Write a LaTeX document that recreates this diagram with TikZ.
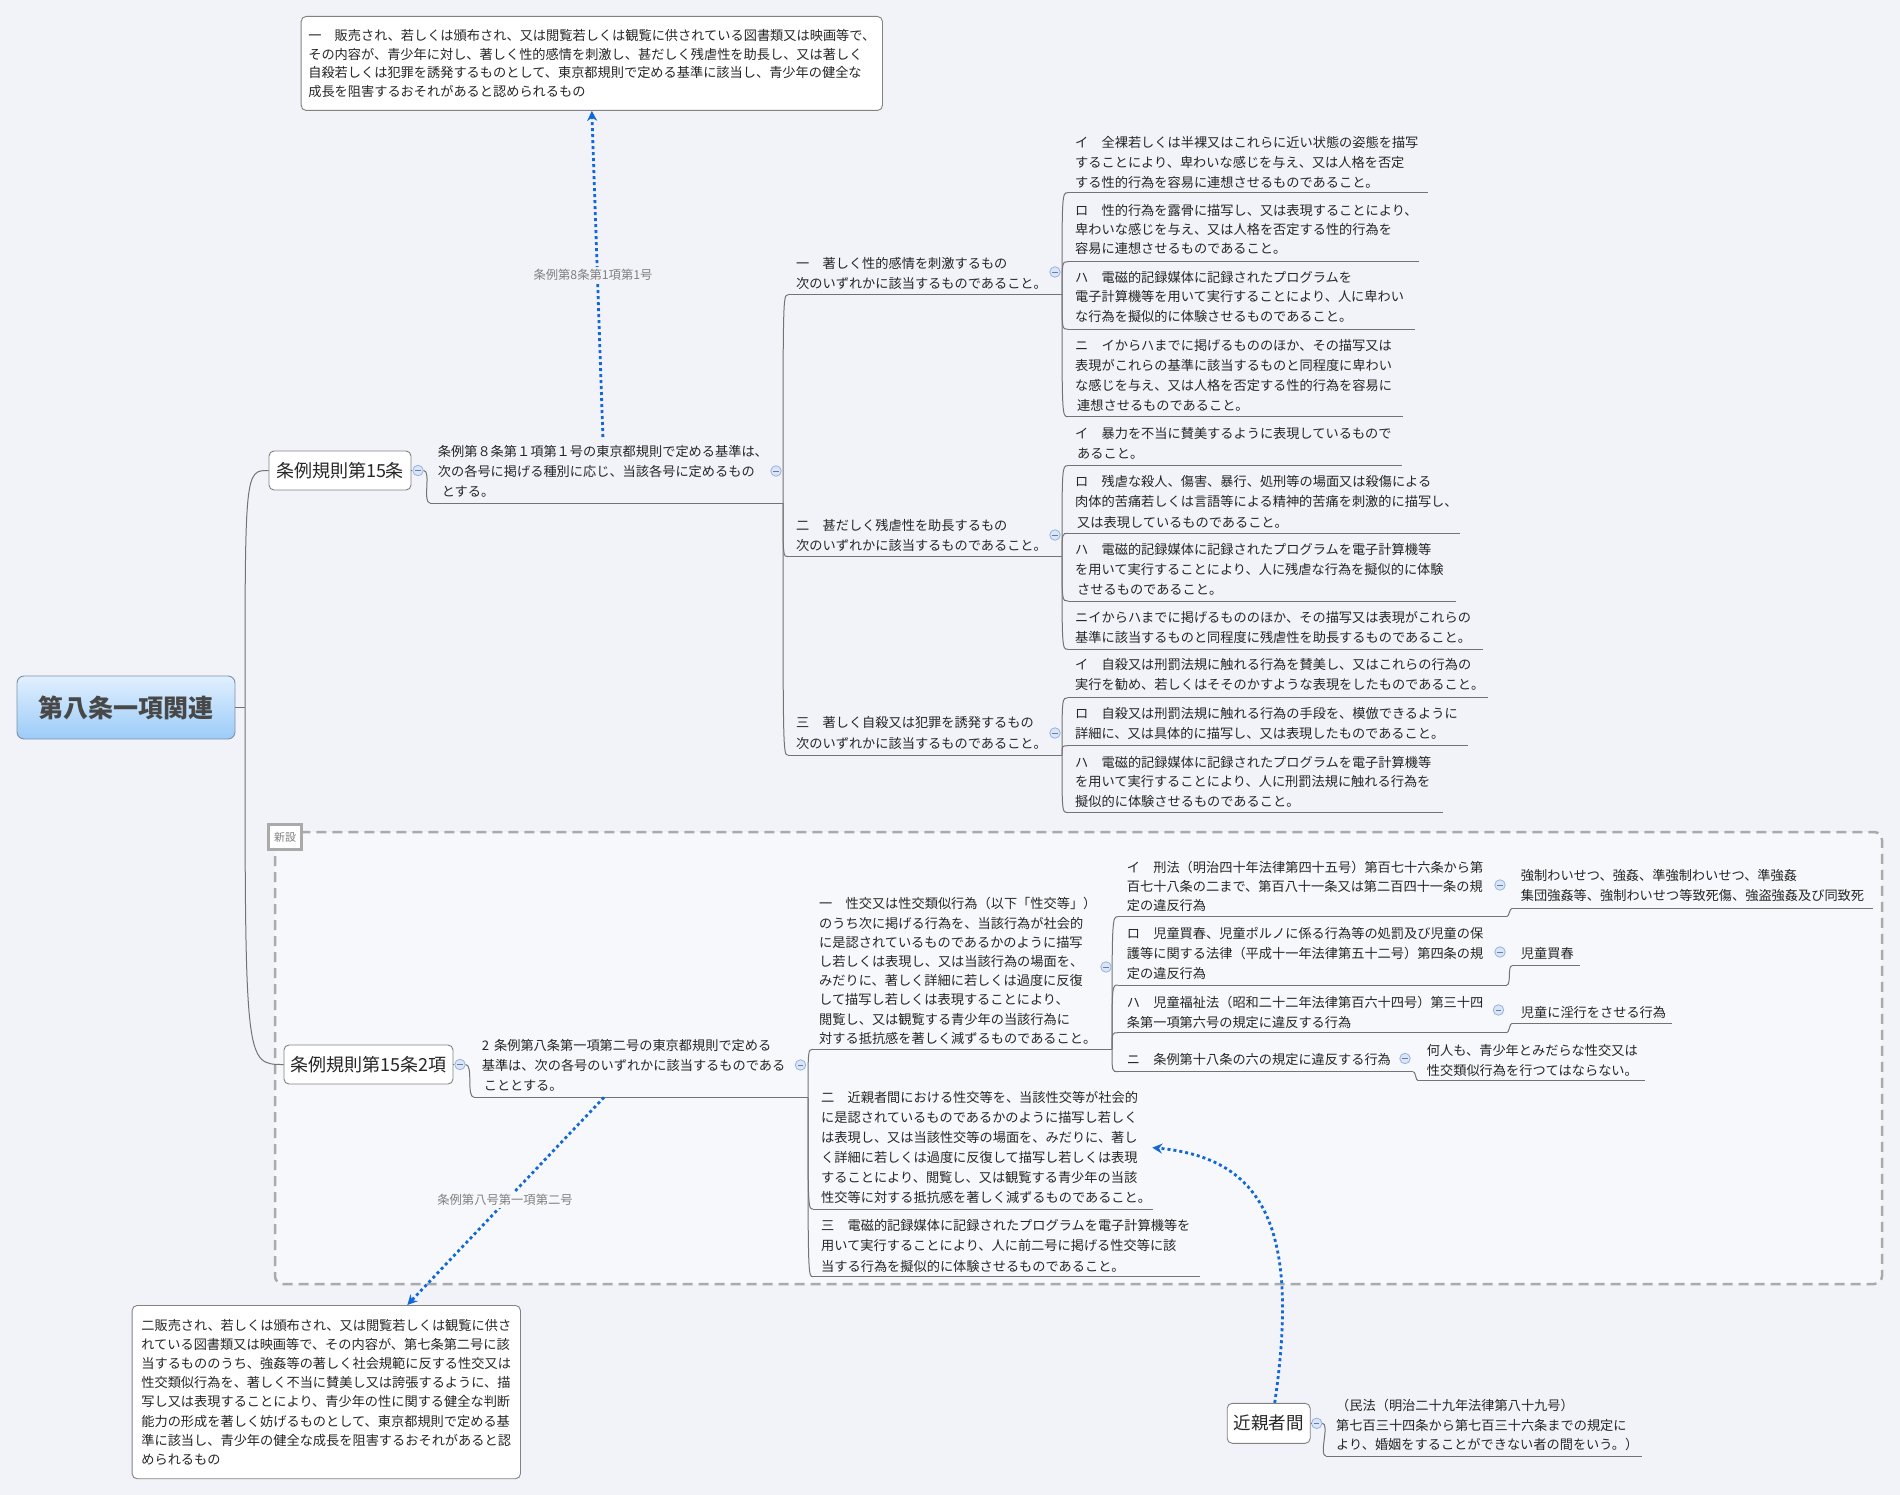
\documentclass[tikz,border=0pt]{standalone}
\usepackage{fontspec}
\setmainfont{Noto Sans CJK JP}
\usetikzlibrary{arrows.meta}
\definecolor{bg}{RGB}{242,243,248}
\definecolor{bgin}{RGB}{247,248,251}
\definecolor{txtc}{RGB}{38,38,38}
\definecolor{linec}{RGB}{115,115,115}
\definecolor{boxc}{RGB}{130,130,130}
\definecolor{dashc}{RGB}{170,170,170}
\definecolor{bluec}{RGB}{18,104,216}
\definecolor{labc}{RGB}{128,128,128}
\definecolor{cbfill}{RGB}{218,229,248}
\definecolor{cbdraw}{RGB}{150,178,224}
\definecolor{roottop}{RGB}{225,240,255}
\definecolor{rootbot}{RGB}{155,203,248}
\definecolor{rootbord}{RGB}{125,145,170}
\definecolor{roottext}{RGB}{72,72,72}
\newcommand{\jbody}[1]{\fontsize{13.2}{#1}\selectfont}
\newcommand{\utopic}[8]{%
  \node[tx=#4] (#1) at (#2,#3) {#5};
  \coordinate (#1-s) at (#6,#8);
  \coordinate (#1-e) at (#7,#8);
  \draw[conn] (#1-s) -- (#1-e);}
\newcommand{\brk}[2]{\draw[conn] (#1) .. controls (#1 |- #2) .. (#2);}
\newcommand{\scv}[2]{\draw[conn] (#1) to[out=0,in=180,looseness=0.6] (#2);}
\begin{document}
\begin{tikzpicture}[x=1pt,y=-1pt,
  tx/.style={font=\jbody{#1}, text=txtc, align=left, inner sep=0pt, anchor=north west},
  tx/.default=20,
  conn/.style={draw=linec, line width=1pt},
  topic/.style={draw=boxc, fill=white, rounded corners=5pt, line width=0.9pt, text=txtc,
    font=\fontsize{18}{22}\selectfont, inner sep=0pt},
  cb/.style={circle, draw=cbdraw, fill=cbfill, line width=0.8pt, minimum size=10.5pt, inner sep=0pt,
    path picture={\draw[cbdraw!70!black, line width=0.9pt]
      ([xshift=-2.6pt]path picture bounding box.center) -- ([xshift=2.6pt]path picture bounding box.center);}},
  ref/.style={draw=bluec, line width=2.8pt, dash pattern=on 3pt off 3pt, -{Stealth[length=10pt,width=10pt]}},
  lab/.style={font=\fontsize{12.3}{14}\selectfont, text=labc, inner sep=2pt},
]
\fill[bg] (0,0) rectangle (1900,1495);
\useasboundingbox (0,0) rectangle (1900,1495);

% new section region
\fill[bgin, rounded corners=8pt] (275,832) rectangle (1882,1284);
\draw[dashc, line width=2.5pt, dash pattern=on 10pt off 6pt, rounded corners=8pt] (275,832) rectangle (1882,1284);
\node[draw=dashc, line width=2.5pt, fill=white, minimum width=33pt, minimum height=25pt, inner sep=0pt,
  font=\fontsize{11}{13}\selectfont, text=labc] (shin) at (285,837) {新設};

% root and first-level topics
\node[draw=rootbord, rounded corners=7pt, top color=roottop, bottom color=rootbot, line width=0.9pt,
  minimum width=218pt, minimum height=63pt, font=\fontsize{25}{30}\selectfont\bfseries, text=roottext] (root) at (126,707.5) {第八条一項関連};
\coordinate (J0) at (245,707.5);
\node[topic, minimum width=142pt, minimum height=39pt] (A) at (340,470.5) {条例規則第15条};
\node[topic, minimum width=169pt, minimum height=39pt] (G) at (368.5,1064.5) {条例規則第15条2項};
\node[topic, minimum width=83pt, minimum height=40pt, font=\fontsize{17.5}{21}\selectfont] (N) at (1268.7,1423.3) {近親者間};

% referenced boxes
\node[topic, font=\jbody{18.4}, align=left, anchor=north west, minimum width=581.3pt, minimum height=94pt,
  inner xsep=6.5pt] (topbox) at (300.7,16) {一　販売され、若しくは頒布され、又は閲覧若しくは観覧に供されている図書類又は映画等で、\\
その内容が、青少年に対し、著しく性的感情を刺激し、甚だしく残虐性を助長し、又は著しく\\
自殺若しくは犯罪を誘発するものとして、東京都規則で定める基準に該当し、青少年の健全な\\
成長を阻害するおそれがあると認められるもの};
\node[topic, font=\jbody{19.2}, align=left, anchor=north west, minimum width=388.3pt, minimum height=173.3pt,
  inner xsep=8pt] (M) at (131.7,1305) {二販売され、若しくは頒布され、又は閲覧若しくは観覧に供さ\\
れている図書類又は映画等で、その内容が、第七条第二号に該\\
当するもののうち、強姦等の著しく社会規範に反する性交又は\\
性交類似行為を、著しく不当に賛美し又は誇張するように、描\\
写し又は表現することにより、青少年の性に関する健全な判断\\
能力の形成を著しく妨げるものとして、東京都規則で定める基\\
準に該当し、青少年の健全な成長を阻害するおそれがあると認\\
められるもの};

% ---- upper tree ----
\utopic{B}{437.7}{445}{20}{条例第８条第１項第１号の東京都規則で定める基準は、\\次の各号に掲げる種別に応じ、当該各号に定めるもの\\\hspace{4pt}とする。}{430}{783}{503}
\utopic{C1}{796}{256.7}{20.6}{一　著しく性的感情を刺激するもの\\次のいずれかに該当するものであること。}{788}{1062}{295}
\utopic{C2}{796}{519}{20}{二　甚だしく残虐性を助長するもの\\次のいずれかに該当するものであること。}{788}{1062}{556.7}
\utopic{C3}{796}{716.3}{20.4}{三　著しく自殺又は犯罪を誘発するもの\\次のいずれかに該当するものであること。}{788}{1062}{755}

\utopic{D1}{1075}{135.7}{20}{イ　全裸若しくは半裸又はこれらに近い状態の姿態を描写\\することにより、卑わいな感じを与え、又は人格を否定\\する性的行為を容易に連想させるものであること。}{1068}{1428}{192.7}
\utopic{D2}{1075}{204}{19.3}{ロ　性的行為を露骨に描写し、又は表現することにより、\\卑わいな感じを与え、又は人格を否定する性的行為を\\容易に連想させるものであること。}{1068}{1419}{261.7}
\utopic{D3}{1075}{270.7}{19.7}{ハ　電磁的記録媒体に記録されたプログラムを\\電子計算機等を用いて実行することにより、人に卑わい\\な行為を擬似的に体験させるものであること。}{1068}{1415}{329.3}
\utopic{D4}{1075}{339}{20}{ニ　イからハまでに掲げるもののほか、その描写又は\\表現がこれらの基準に該当するものと同程度に卑わい\\な感じを与え、又は人格を否定する性的行為を容易に\\\hspace{2pt}連想させるものであること。}{1068}{1403}{416.7}

\utopic{E1}{1075}{427.3}{19.4}{イ　暴力を不当に賛美するように表現しているもので\\\hspace{2pt}あること。}{1068}{1401.7}{465.7}
\utopic{E2}{1075}{475}{20.3}{ロ　残虐な殺人、傷害、暴行、処刑等の場面又は殺傷による\\肉体的苦痛若しくは言語等による精神的苦痛を刺激的に描写し、\\\hspace{2pt}又は表現しているものであること。}{1068}{1460}{533.3}
\utopic{E3}{1075}{543}{20}{ハ　電磁的記録媒体に記録されたプログラムを電子計算機等\\を用いて実行することにより、人に残虐な行為を擬似的に体験\\\hspace{2pt}させるものであること。}{1068}{1456}{601}
\utopic{E4}{1075}{610.7}{20}{ニイからハまでに掲げるもののほか、その描写又は表現がこれらの\\基準に該当するものと同程度に残虐性を助長するものであること。}{1068}{1482.7}{649.3}

\utopic{F1}{1075}{658.3}{20}{イ　自殺又は刑罰法規に触れる行為を賛美し、又はこれらの行為の\\実行を勧め、若しくはそそのかすような表現をしたものであること。}{1068}{1488}{697.7}
\utopic{F2}{1075}{706.7}{20}{ロ　自殺又は刑罰法規に触れる行為の手段を、模倣できるように\\詳細に、又は具体的に描写し、又は表現したものであること。}{1068}{1468}{745.7}
\utopic{F3}{1075}{755.7}{19.7}{ハ　電磁的記録媒体に記録されたプログラムを電子計算機等\\を用いて実行することにより、人に刑罰法規に触れる行為を\\擬似的に体験させるものであること。}{1068}{1443}{812.7}

% ---- lower tree ----
\utopic{H}{481.6}{1039}{20}{2\hspace{5pt}条例第八条第一項第二号の東京都規則で定める\\基準は、次の各号のいずれかに該当するものである\\\hspace{2pt}こととする。}{474}{808}{1097.3}
\utopic{I1}{819}{897.3}{19.2}{一　性交又は性交類似行為（以下「性交等」）\\のうち次に掲げる行為を、当該行為が社会的\\に是認されているものであるかのように描写\\し若しくは表現し、又は当該行為の場面を、\\みだりに、著しく詳細に若しくは過度に反復\\して描写し若しくは表現することにより、\\閲覧し、又は観覧する青少年の当該行為に\\対する抵抗感を著しく減ずるものであること。}{813}{1112}{1049.3}
\utopic{I2}{821}{1091.3}{20}{二　近親者間における性交等を、当該性交等が社会的\\に是認されているものであるかのように描写し若しく\\は表現し、又は当該性交等の場面を、みだりに、著し\\く詳細に若しくは過度に反復して描写し若しくは表現\\することにより、閲覧し、又は観覧する青少年の当該\\性交等に対する抵抗感を著しく減ずるものであること。}{813}{1152.6}{1209}
\utopic{I3}{821}{1219}{20.4}{三　電磁的記録媒体に記録されたプログラムを電子計算機等を\\用いて実行することにより、人に前二号に掲げる性交等に該\\当する行為を擬似的に体験させるものであること。}{813}{1200}{1276.7}

\utopic{K1}{1126.7}{860.7}{19.2}{イ　刑法（明治四十年法律第四十五号）第百七十六条から第\\百七十八条の二まで、第百八十一条又は第二百四十一条の規\\定の違反行為}{1118}{1506.7}{916.7}
\utopic{K2}{1126.7}{927.3}{19.7}{ロ　児童買春、児童ポルノに係る行為等の処罰及び児童の保\\護等に関する法律（平成十一年法律第五十二号）第四条の規\\定の違反行為}{1118}{1506.7}{985}
\utopic{K3}{1126.7}{995.7}{20}{ハ　児童福祉法（昭和二十二年法律第百六十四号）第三十四\\条第一項第六号の規定に違反する行為}{1118}{1506.7}{1032.7}
\utopic{K4}{1126.7}{1053.3}{20}{ニ　条例第十八条の六の規定に違反する行為}{1118}{1413.3}{1071.7}

\utopic{L1}{1520.7}{869}{20}{強制わいせつ、強姦、準強制わいせつ、準強姦\\集団強姦等、強制わいせつ等致死傷、強盗強姦及び同致死}{1512}{1873}{908.3}
\utopic{L2}{1520.7}{947.3}{20}{児童買春}{1512}{1580}{965.7}
\utopic{L3}{1520.7}{1005.7}{20}{児童に淫行をさせる行為}{1512}{1671.7}{1023.3}
\utopic{L4}{1426.7}{1044}{20}{何人も、青少年とみだらな性交又は\\性交類似行為を行つてはならない。}{1418}{1645}{1080.7}

\utopic{O}{1336}{1399}{19.5}{（民法（明治二十九年法律第八十九号）\\第七百三十四条から第七百三十六条までの規定に\\より、婚姻をすることができない者の間をいう。）}{1326}{1641.7}{1456}

% ---- connectors ----
\draw[conn] (root.east) -- (J0);
\brk{J0}{A.west}
\brk{J0}{G.west}
\brk{B-e}{C1-s}
\brk{B-e}{C2-s}
\brk{B-e}{C3-s}
\brk{C1-e}{D1-s}
\brk{C1-e}{D2-s}
\brk{C1-e}{D3-s}
\brk{C1-e}{D4-s}
\brk{C2-e}{E1-s}
\brk{C2-e}{E2-s}
\brk{C2-e}{E3-s}
\brk{C2-e}{E4-s}
\brk{C3-e}{F1-s}
\brk{C3-e}{F2-s}
\brk{C3-e}{F3-s}
\brk{H-e}{I1-s}
\brk{H-e}{I2-s}
\brk{H-e}{I3-s}
\brk{I1-e}{K1-s}
\brk{I1-e}{K2-s}
\brk{I1-e}{K3-s}
\brk{I1-e}{K4-s}
\scv{K1-e}{L1-s}
\scv{K2-e}{L2-s}
\scv{K3-e}{L3-s}
\scv{K4-e}{L4-s}

% collapse buttons
\node[cb] (cA) at (418,470.5) {};
\node[cb] (cG) at (460,1064.5) {};
\node[cb] (cN) at (1316.7,1423.3) {};
\draw[conn] (A.east) -- (cA.west);
\draw[conn] (G.east) -- (cG.west);
\draw[conn] (N.east) -- (cN.west);
\scv{cA.east}{B-s}
\scv{cG.east}{H-s}
\scv{cN.east}{O-s}
\node[cb] at (776,471) {};
\node[cb] at (1055,272) {};
\node[cb] at (1055,535) {};
\node[cb] at (1055,733) {};
\node[cb] at (800.5,1065) {};
\node[cb] at (1106,967) {};
\node[cb] at (1500,885) {};
\node[cb] at (1500,952) {};
\node[cb] at (1498.5,1010) {};
\node[cb] at (1405,1058.5) {};

% ---- reference arrows ----
\coordinate (Ha) at (604,1097.3);
\draw[ref] ([yshift=8pt]B.north) -- (topbox.south);
\node[lab, fill=bg] (lab1) at (593,275) {条例第8条第1項第1号};
\draw[ref] (Ha) -- ([xshift=81pt]M.north);
\node[lab, fill=bgin] (lab2) at (505,1200) {条例第八号第一項第二号};
\draw[ref] ([xshift=6pt]N.north) .. controls (1300,1230) and (1265,1158) .. ([xshift=1pt]I2.east);
\end{tikzpicture}
\end{document}
